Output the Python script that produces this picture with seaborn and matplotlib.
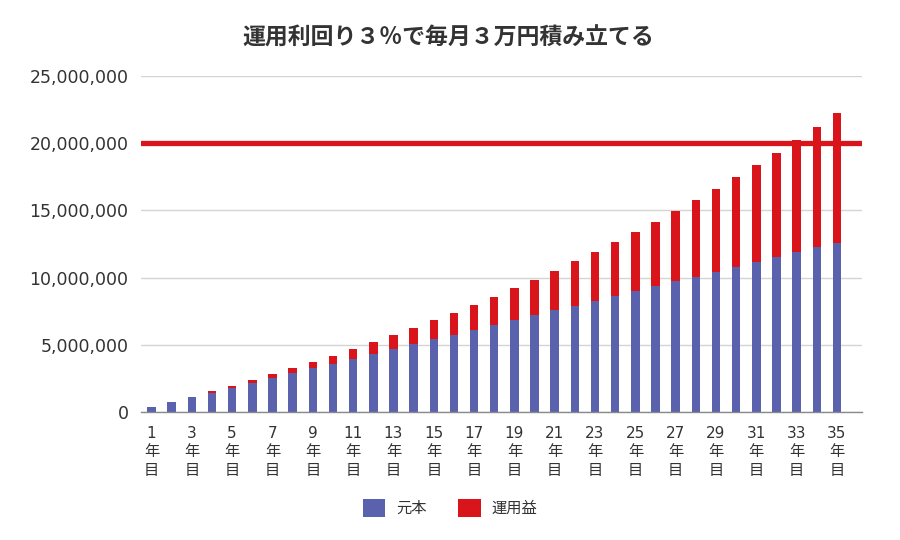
import matplotlib
matplotlib.use("Agg")
import matplotlib.pyplot as plt
from matplotlib.patches import Patch
import seaborn as sns
import pandas as pd

# ---- data ----
years = list(range(1, 36))
principal = [360000, 720000, 1080000, 1440000, 1800000, 2160000, 2520000, 2880000,
             3240000, 3600000, 3960000, 4320000, 4680000, 5040000, 5400000, 5760000,
             6120000, 6480000, 6840000, 7200000, 7560000, 7920000, 8280000, 8640000,
             9000000, 9360000, 9720000, 10080000, 10440000, 10800000, 11160000,
             11520000, 11880000, 12240000, 12600000]
total = [365000, 741000, 1129000, 1528000, 1939000, 2363000, 2800000, 3250000,
         3714000, 4192000, 4685000, 5192000, 5715000, 6254000, 6809000, 7381000,
         7971000, 8578000, 9204000, 9849000, 10514000, 11198000, 11904000, 12631000,
         13380000, 14152000, 14948000, 15767000, 16612000, 17482000, 18379000,
         19303000, 20255000, 21236000, 22247000]
target_line = 20000000
yticks = [0, 5000000, 10000000, 15000000, 20000000, 25000000]
title = "運用利回り３％で毎月３万円積み立てる"
legend_labels = ["元本", "運用益"]

BLUE = "#5A62AE"
RED = "#D9141B"
TXT = "#333333"

sns.set_theme(style="white")
plt.rcParams["font.family"] = ["DejaVu Sans", "Noto Sans CJK JP"]

df = pd.DataFrame({"year": [str(y) for y in years],
                   "principal": principal, "total": total})

fig = plt.figure(figsize=(9, 5.4), dpi=100)
ax = fig.add_axes([141 / 900, 1 - 412 / 540, (862 - 141) / 900, (412 - 76) / 540])

sns.barplot(data=df, x="year", y="total", color=RED, saturation=1,
            width=0.42, errorbar=None, ax=ax, zorder=2, linewidth=0)
sns.barplot(data=df, x="year", y="principal", color=BLUE, saturation=1,
            width=0.42, errorbar=None, ax=ax, zorder=2, linewidth=0)

ax.axhline(target_line, color=RED, lw=3.8, zorder=3)

ax.set_ylim(0, 25000000)
ax.set_xlim(-0.52, 35.24)
ax.set_yticks(yticks)
ax.set_yticklabels([f"{v:,}" for v in yticks], fontsize=12.5, color=TXT)
ax.set_xticks(range(len(years)))
ax.set_xticklabels([f"{y}\n年\n目" if y % 2 == 1 else "" for y in years],
                   fontsize=11, color=TXT, linespacing=1.3,
                   multialignment="center")
ax.tick_params(axis="both", length=0)
ax.tick_params(axis="y", pad=9)
ax.tick_params(axis="x", pad=10)
ax.set_xlabel("")
ax.set_ylabel("")

ax.yaxis.grid(True, color="#d4d4d4", lw=1)
ax.set_axisbelow(True)
for s in ["top", "right", "left"]:
    ax.spines[s].set_visible(False)
ax.spines["bottom"].set_color("#8a8a8a")
ax.spines["bottom"].set_linewidth(1)

fig.text(448 / 900, 1 - 38 / 540, title, ha="center", va="center",
         fontsize=16.5, fontweight="bold", color=TXT,
         family=["Noto Sans CJK JP", "DejaVu Sans"])

handles = [Patch(facecolor=BLUE, edgecolor="none"), Patch(facecolor=RED, edgecolor="none")]
fig.legend(handles, legend_labels, loc="center", bbox_to_anchor=(450 / 900, 1 - 508 / 540),
           ncol=2, frameon=False, handlelength=1.45, handleheight=1.45,
           handletextpad=0.7, columnspacing=2.1,
           prop={"family": "Noto Sans CJK JP", "size": 11})
for t in fig.legends[0].get_texts():
    t.set_color(TXT)

fig.savefig("out.png", dpi=100)
